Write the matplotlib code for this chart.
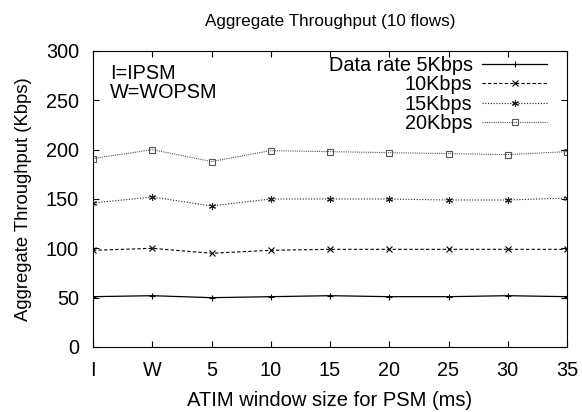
import matplotlib
matplotlib.use("Agg")
from matplotlib import pyplot as plt

plt.rcParams['font.family'] = ['Liberation Sans', 'DejaVu Sans']

labels = ["I", "W", "5", "10", "15", "20", "25", "30", "35"]
rate5 = [51, 52, 50, 51, 52, 51, 51, 52, 51]
rate10 = [98, 100, 95, 98, 99, 99, 99, 99, 99]
rate15 = [146, 152, 143, 150, 150, 150, 149, 149, 151]
rate20 = [191, 200, 188, 199, 198, 197, 196, 195, 198]

x = list(range(len(labels)))

fig = plt.figure(figsize=(5.82, 4.12), dpi=100)
ax = fig.add_axes([93 / 582, 1 - 347 / 412, (567 - 93) / 582, (347 - 51) / 412])

ax.plot(x, rate5, color="black", lw=0.9, marker="+", ms=4, mew=0.8, label="Data rate 5Kbps")
ax.plot(x, rate10, color="black", lw=0.8, ls=(0, (3, 2)), marker="x", ms=4, mew=0.8, label="10Kbps")
ax.plot(x, rate15, color="#222222", lw=0.8, ls=(0, (1, 1.5)), marker=(6, 2, 0), ms=5, mew=0.8, label="15Kbps")
ax.plot(x, rate20, color="#555555", lw=0.8, ls=(0, (1, 1)), marker="s", ms=4, mfc="none", mew=0.8, label="20Kbps")

ax.set_xlim(0, len(labels) - 1)
ax.set_ylim(0, 300)
ax.set_xticks(x)
ax.set_xticklabels(labels)
ax.set_yticks(range(0, 301, 50))
ax.tick_params(direction="in", top=True, right=True, labelsize=14.3, length=4, pad=10)

ax.set_xlabel("ATIM window size for PSM (ms)", fontsize=14.5, labelpad=8)
ax.set_ylabel("Aggregate Throughput (Kbps)", fontsize=13.3, labelpad=10)
ax.set_title("Aggregate Throughput (10 flows)", fontsize=12.3, pad=18)

ax.text(0.036, 0.955, "I=IPSM\nW=WOPSM", transform=ax.transAxes, fontsize=14.3, va="top", linespacing=0.95)

ax.legend(loc="upper right", frameon=False, markerfirst=False, fontsize=14.3,
          handlelength=3.25, labelspacing=0.02, borderaxespad=0.2, handletextpad=0.5,
          bbox_to_anchor=(0.983, 1.024))
for t in ax.get_legend().get_texts():
    t.set_ha("right")

fig.savefig("out.png", dpi=100)
